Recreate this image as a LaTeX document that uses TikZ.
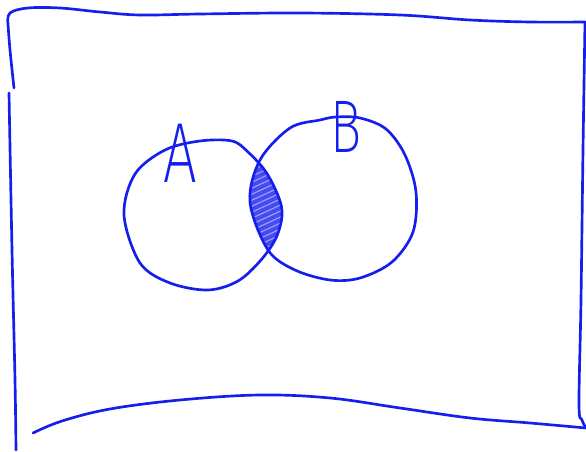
\documentclass[tikz,border=0pt]{standalone}
\usepackage{fontspec}
\newfontfamily\handfont{Fira Sans ExtraLight}
\usetikzlibrary{positioning}

\definecolor{penblue}{RGB}{22,30,238}

% hand-drawn outlines of the two sets (pixel coordinates)
\def\setA{plot[smooth cycle,tension=0.55] coordinates {(124,215) (135,174) (165,150) (200,141) (232,141) (248,152) (266,172) (279,198) (282,216) (276,238) (261,260) (238,281) (208,290) (170,283) (140,263)}}
\def\setB{plot[smooth cycle,tension=0.55] coordinates {(250,202) (260,160) (290,128) (320,120) (336,117) (360,118) (386,129) (405,155) (416,192) (413,232) (392,262) (360,278) (330,280) (295,270) (268,250)}}

\begin{document}
\begin{tikzpicture}[x=0.75pt,y=-0.75pt,
  pen/.style={draw=penblue,line width=2pt,line cap=round,line join=round},
  setlabel/.style={text=penblue,inner sep=0pt,xscale=0.7,font=\handfont\fontsize{64}{64}\selectfont}]
 \useasboundingbox (0,0) rectangle (586,452);
 % frame (universe)
 \draw[pen] plot[smooth,tension=0.6] coordinates {(8,24) (10,13) (28,8) (60,8) (100,12) (140,15) (200,14) (300,13) (400,15) (470,20) (530,22) (585,22)};
 \draw[pen] plot[smooth,tension=0.6] coordinates {(585,22) (583,150) (581,300) (579,404) (582,420) (586,428)};
 \draw[pen] plot[smooth,tension=0.6] coordinates {(33,433) (62,421) (110,409) (180,400) (260,395) (330,398) (400,408) (470,418) (530,423) (586,428)};
 \draw[pen] plot[smooth,tension=0.6] coordinates {(8,24) (10,50) (14,88)};
 \draw[pen] plot[smooth,tension=0.6] coordinates {(9,93) (12,250) (15,380) (16,450)};
 % shaded intersection
 \begin{scope}
   \clip \setA;
   \fill[penblue!80] \setB;
   \clip \setB;
   \foreach \y in {130,136,...,290}
     \draw[white!60!penblue,line width=0.8pt] (235,\y) -- (300,\y-30);
 \end{scope}
 % the two sets
 \draw[pen] \setA;
 \draw[pen] \setB;
 \node[setlabel] (labelA) at (180,153) {A};
 \node[setlabel,font=\handfont\fontsize{56}{56}\selectfont] (labelB) at (346,127) {B};
\end{tikzpicture}
\end{document}
